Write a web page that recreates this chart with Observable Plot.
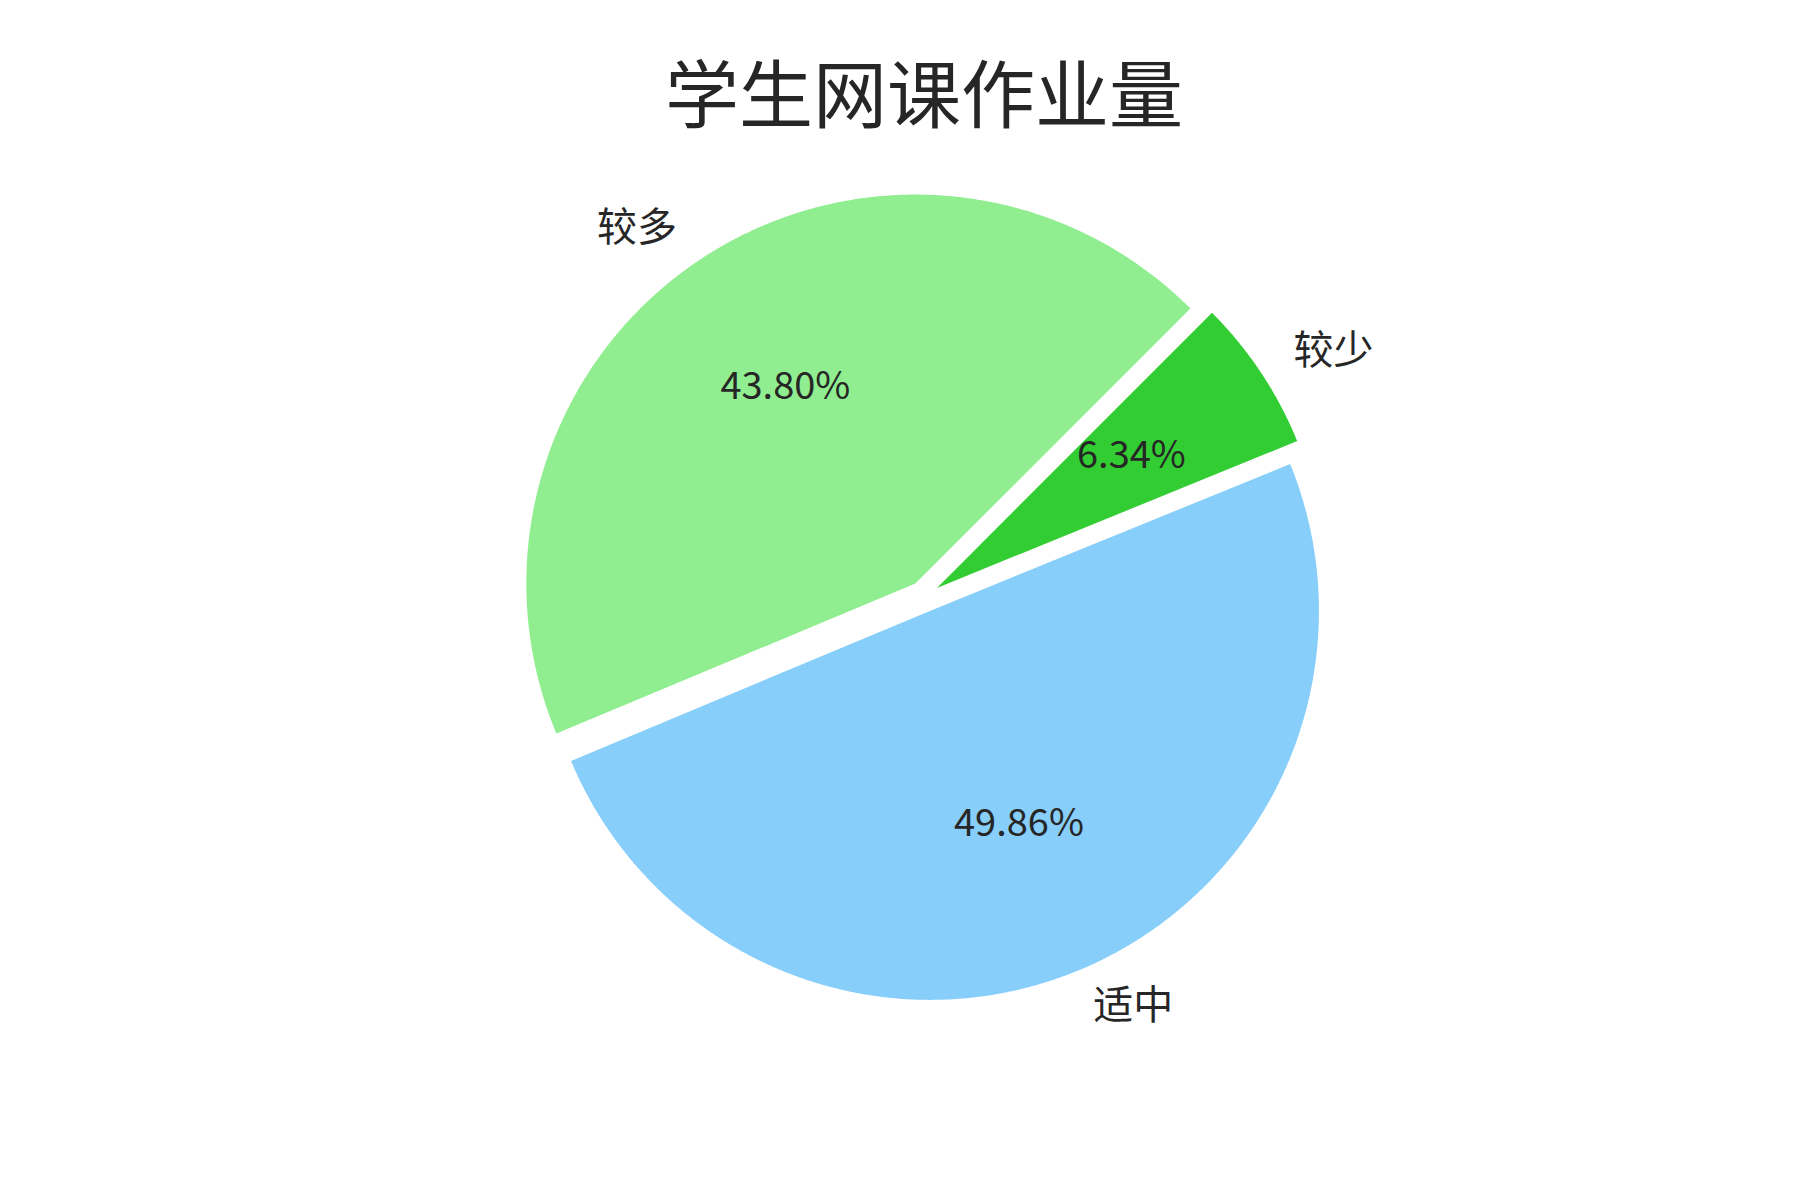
<!DOCTYPE html>
<html>
<head>
<meta charset="utf-8">
<script src="https://cdn.jsdelivr.net/npm/d3@7"></script>
<script src="https://cdn.jsdelivr.net/npm/@observablehq/plot@0.6"></script>
<style>
  html, body { margin: 0; padding: 0; background: #ffffff; }
  #chart svg { display: block; }
</style>
</head>
<body>
<div id="chart"></div>
<script>
// ---- data ----
const title = "学生网课作业量";
const categories = ["较少", "适中", "较多"];
const values = [6.34, 49.86, 43.80];
const colors = ["#32CD32", "#87CEFA", "#90EE90"];
const explode = [0.04, 0.04, 0.04];

// ---- layout ----
const W = 1800, H = 1200;
const cx = 923.5, cy = 596, R = 389;   // pie centre and radius (px)
const startDeg = 45;                    // first wedge starts at 45° (clockwise)
const labelDistance = 1.1, pctDistance = 0.6;
const textColor = "#262626";
const font = "'Noto Sans CJK SC', 'Noto Sans', sans-serif";

const total = d3.sum(values);
const a0 = startDeg * Math.PI / 180;
const pie = d3.pie().sort(null).value(d => d.value).startAngle(a0).endAngle(a0 + 2 * Math.PI);
const arcs = pie(categories.map((c, i) => ({label: c, value: values[i], explode: explode[i]})));

// d3 angles are clockwise from 12 o'clock: x = sin(a), y(up) = cos(a)
const wedgePoints = [];
const labels = [];
arcs.forEach(arc => {
  const m = (arc.startAngle + arc.endAngle) / 2;
  const ox = arc.data.explode * Math.sin(m);
  const oy = arc.data.explode * Math.cos(m);
  wedgePoints.push({label: arc.data.label, x: ox, y: oy});
  const n = Math.max(8, Math.ceil((arc.endAngle - arc.startAngle) / (Math.PI / 720)));
  for (let k = 0; k <= n; k++) {
    const a = arc.startAngle + (arc.endAngle - arc.startAngle) * k / n;
    wedgePoints.push({label: arc.data.label, x: ox + Math.sin(a), y: oy + Math.cos(a)});
  }
  labels.push({
    label: arc.data.label,
    pct: (arc.data.value / total * 100).toFixed(2) + "%",
    lx: ox + labelDistance * Math.sin(m),
    ly: oy + labelDistance * Math.cos(m),
    px: ox + pctDistance * Math.sin(m),
    py: oy + pctDistance * Math.cos(m)
  });
});

const chart = Plot.plot({
  width: W,
  height: H,
  margin: 0,
  x: {domain: [-cx / R, (W - cx) / R], axis: null},
  y: {domain: [-(H - cy) / R, cy / R], axis: null},
  color: {domain: categories, range: colors},
  style: {fontFamily: font, background: "#ffffff", overflow: "visible"},
  marks: [
    Plot.line(wedgePoints, {x: "x", y: "y", z: "label", fill: "label", stroke: "none", curve: "linear-closed"}),
    Plot.text(labels.filter(d => d.lx >= 0), {x: "lx", y: "ly", text: "label", textAnchor: "start", fontSize: 40, fill: textColor}),
    Plot.text(labels.filter(d => d.lx < 0), {x: "lx", y: "ly", text: "label", textAnchor: "end", fontSize: 40, fill: textColor}),
    Plot.text(labels, {x: "px", y: "py", text: "pct", fontSize: 38, dy: -3, fill: textColor}),
    Plot.text([title], {frameAnchor: "top", dx: cx - W / 2, dy: 98, lineAnchor: "middle", fontSize: 74, fill: textColor})
  ]
});
document.getElementById("chart").appendChild(chart);
</script>
</body>
</html>
